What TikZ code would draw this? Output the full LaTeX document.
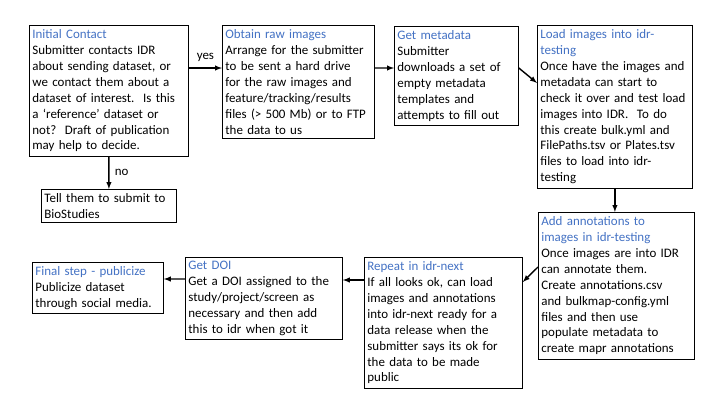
\documentclass[tikz,border=0pt]{standalone}
\usepackage{fontspec}
\setmainfont{Carlito}
\usepackage{xcolor}
\usepackage{tikz}
\usetikzlibrary{calc, arrows}

\definecolor{titleblue}{RGB}{68,114,196}
\newcommand{\steptitle}[1]{{\color{titleblue}#1}}

\begin{document}
\begin{tikzpicture}[x=1bp, y=-1bp, >=latex,
    stepbox/.style={draw, line width=0.8bp, anchor=north west, align=left,
        inner xsep=3bp, inner ysep=4bp, text width=#1,
        font=\fontsize{13}{16}\selectfont},
    flow/.style={->, line width=1.4bp},
    flowlabel/.style={font=\fontsize{13}{16}\selectfont}]
    % Page
    \useasboundingbox[fill=white] (0,0) rectangle (720,405);

    % Top row
    \node[stepbox=153bp] (contact) at (29,25) {\steptitle{Initial Contact}\\
        Submitter contacts IDR\\ about sending dataset, or\\ we contact them about a\\
        dataset of interest.\ \ Is this\\ a `reference' dataset or\\
        not?\ \ Draft of publication\\ may help to decide.};
    \node[stepbox=146bp] (obtain) at (222,25) {\steptitle{Obtain raw images}\\
        Arrange for the submitter\\ to be sent a hard drive\\ for the raw images and\\
        feature/tracking/results\\ files (> 500 Mb) or to FTP\\ the data to us};
    \node[stepbox=118bp] (meta) at (394,26) {\steptitle{Get metadata}\\
        Submitter\\ downloads a set of\\ empty metadata\\ templates and\\ attempts to fill out};
    \node[stepbox=149bp] (load) at (537,25) {\steptitle{Load images into idr-}\\
        \steptitle{testing}\\ Once have the images and\\ metadata can start to\\
        check it over and test load\\ images into IDR.\ \ To do\\ this create bulk.yml and\\
        FilePaths.tsv or Plates.tsv\\ files to load into idr-\\ testing};

    % Side box
    \node[stepbox=129bp] (tell) at (41,189) {Tell them to submit to\\ BioStudies};

    % Bottom row
    \node[stepbox=150bp] (annot) at (538,212) {\steptitle{Add annotations to}\\
        \steptitle{images in idr-testing}\\ Once images are into IDR\\ can annotate them.\\
        Create annotations.csv\\ and bulkmap-config.yml\\ files and then use\\
        populate metadata to\\ create mapr annotations};
    \node[stepbox=152bp] (repeat) at (364,257) {\steptitle{Repeat in idr-next}\\
        If all looks ok, can load\\ images and annotations\\ into idr-next ready for a\\
        data release when the\\ submitter says its ok for\\ the data to be made\\ public};
    \node[stepbox=151bp] (doi) at (185,257) {\steptitle{Get DOI}\\
        Get a DOI assigned to the\\ study/project/screen as\\ necessary and then add\\
        this to idr when got it};
    \node[stepbox=125bp] (final) at (32,262) {\steptitle{Final step - publicize}\\
        Publicize dataset\\ through social media.};

    % Arrows
    \draw[flow] ([yshift=-43bp]contact.north east) -- ([yshift=-43bp]obtain.north west)
        node[flowlabel, midway, above, yshift=2bp] {yes};
    \draw[flow] (contact.south) -- (tell.north) node[flowlabel, midway, right, xshift=2bp] {no};
    \draw[flow] ([yshift=-43bp]obtain.north east) -- ([yshift=-42bp]meta.north west);
    \draw[flow] ([yshift=-42bp]meta.north east) -- ([yshift=-58bp]load.north west);
    \draw[flow] (load.south) -- (load.south |- annot.north);
    \draw[flow] ([yshift=-55bp]annot.north west) -- ([yshift=-25bp]repeat.north east);
    \draw[flow] ([yshift=-23bp]repeat.north west) -- ([yshift=-23bp]doi.north east);
    \draw[flow] ([yshift=-22bp]doi.north west) -- ([yshift=-17bp]final.north east);
\end{tikzpicture}
\end{document}
